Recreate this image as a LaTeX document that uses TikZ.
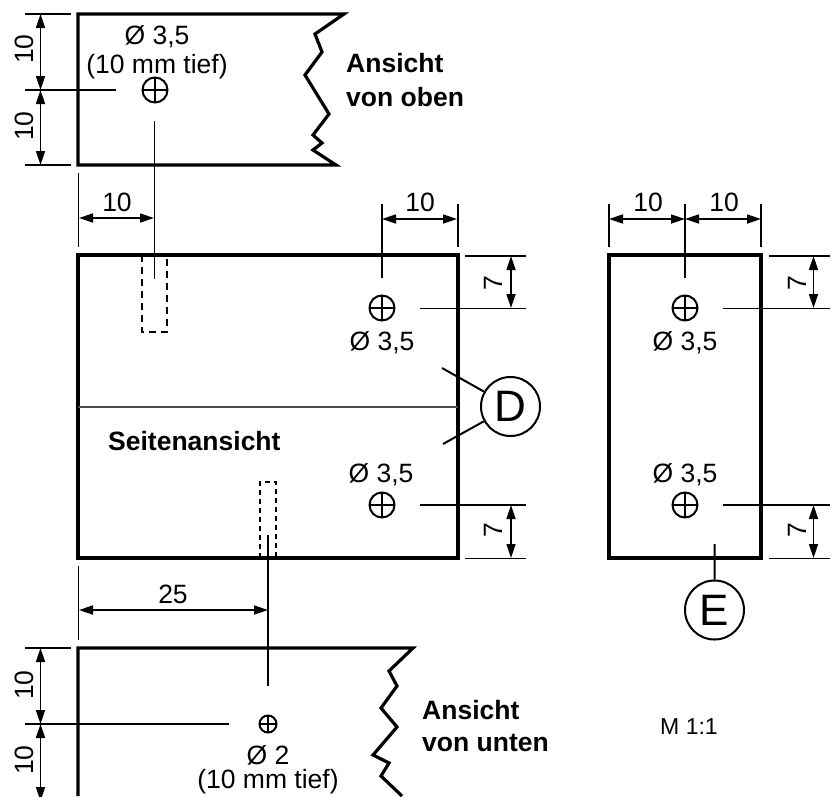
\documentclass[tikz,border=0pt]{standalone}
\usepackage{fontspec}
\setmainfont{Liberation Sans}
\usetikzlibrary{arrows.meta,
                positioning}

\begin{document}
\begin{tikzpicture}[x=1pt, y=-1pt,
   body/.style = {line width=3.2pt, line join=miter},
   fine/.style = {line width=1.7pt},
    dim/.style = {fine, {Triangle[length=14pt,width=9pt]}-{Triangle[length=14pt,width=9pt]}},
   hidden/.style = {line width=1.5pt, dash pattern=on 7pt off 5pt},
   hole/.style = {circle, draw, line width=2pt, inner sep=0pt, minimum size=#1,
                  path picture={\draw[line width=1.5pt]
                     (path picture bounding box.north) -- (path picture bounding box.south)
                     (path picture bounding box.west) -- (path picture bounding box.east);}},
    txt/.style = {inner sep=0pt, font=\fontsize{26.5}{30}\selectfont},
   bold/.style = {txt, font=\fontsize{26.5}{30}\selectfont\bfseries, anchor=west},
    rot/.style = {txt, rotate=90},
   callout/.style = {circle, draw, line width=2pt, minimum size=59pt, inner sep=0pt,
                  font=\fontsize{44}{48}\selectfont},
                        ]
\useasboundingbox (0,0) rectangle (835,796);
% views
\draw[body] (344,14) -- (78,14) -- (78,165) -- (336,165) -- (313,150) -- (322,143)
    -- (313,135) -- (329,114) -- (305,75) -- (322,52) -- (315,34) -- cycle;
\draw[body] (78,255) rectangle (458,558);
\draw[body] (609,255) rectangle (761,558);
\draw[body] (78,796) -- (78,648) -- (413,648) -- (389,671) -- (397,686) -- (381,708)
    -- (397,727) -- (373,755) -- (389,763) -- (381,776) -- (402,796);
\draw[line width=1.5pt, black!70] (78,407) -- (458,407);
\draw[hidden] (142,255) -- (142,332) -- (167,332) -- (167,255);
\draw[hidden, dash pattern=on 5pt off 4pt] (260,558) -- (260,482) -- (276,482) -- (276,558);
% holes
\node[hole=25pt] (H1) at (155,90) {};
\node[hole=25pt] (H2) at (382,308) {};
\node[hole=25pt] (H3) at (382,505) {};
\node[hole=25pt] (H4) at (685,308) {};
\node[hole=25pt] (H5) at (685,505) {};
\node[hole=17pt] (H6) at (268,724) {};
% extension lines
\foreach \xa/\ya/\xb/\yb in {25/14/71/14, 25/90/116/90, 25/165/71/165,
    154.5/121/154.5/279, 78.5/173/78.5/247,
    382/204/382/278, 458/204/458/247,
    465/256/526/256, 420/308.5/526/308.5, 420/505/526/505, 465/558.5/526/558.5,
    609/204/609/247, 685/204/685/278, 761/204/761/247,
    769/256/830/256, 723/308.5/830/308.5, 723/505/830/505, 769/558.5/830/558.5,
    268/535/268/686, 78.5/566/78.5/640,
    25/648/71/648, 25/724/229/724}
    \draw[fine] (\xa,\ya) -- (\xb,\yb);
% dimensions
\foreach \xa/\ya/\xb/\yb in {40.5/14/40.5/90, 40.5/90/40.5/165, 79/218/154/218,
    382/219/457/219, 511/256/511/308, 511/505/511/558,
    609/219/685/219, 685/219/761/219, 813.5/256/813.5/308, 813.5/505/813.5/558,
    79/610/268/610, 40.5/648/40.5/724, 40.5/724/40.5/801}
    \draw[dim] (\xa,\ya) -- (\xb,\yb);
\foreach \x/\y in {117/202, 420/202, 648/202, 724/202}
    \node[txt] at (\x,\y) {10};
\node[txt] at (173,594) {25};
\foreach \x/\y in {24/49, 24/126, 24/685, 24/760}
    \node[rot] at (\x,\y) {10};
\foreach \x/\y in {493/283, 493/530, 797/283, 797/530}
    \node[rot] at (\x,\y) {7};
% labels
\node[txt] at (157,37) {Ø 3,5};
\node[txt] at (157,67) {(10 mm tief)};
\foreach \x/\y in {382/343, 381/475, 685/343, 685/475}
    \node[txt] at (\x,\y) {Ø 3,5};
\node[txt] at (268,755) {Ø 2};
\node[txt] at (268,782) {(10 mm tief)};
\node[bold] at (346,63) {Ansicht};
\node[bold] at (346,97) {von oben};
\node[bold] at (108,441) {Seitenansicht};
\node[bold] at (422,710) {Ansicht};
\node[bold] at (422,743) {von unten};
\node[txt, font=\fontsize{23}{26}\selectfont] at (689,727) {M 1:1};
% callouts
\node[callout] (D) at (510.5,406.5) {D};
\node[callout] (E) at (714.5,610) {E};
\coordinate (d1) at (442,368);
\coordinate (d2) at (443,444);
\coordinate (e1) at (714.5,544);
\draw[line width=2pt] (d1) -- (D) (d2) -- (D) (e1) -- (E);
\end{tikzpicture}
\end{document}
